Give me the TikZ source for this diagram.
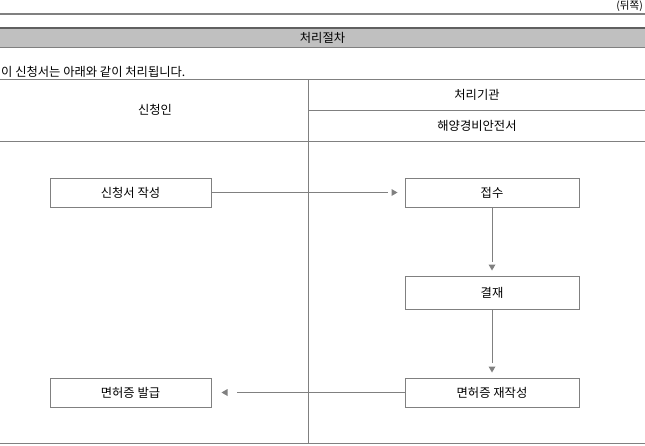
\documentclass[tikz,border=0pt]{standalone}
\usepackage{fontspec}
\setmainfont{Noto Sans CJK KR}
\definecolor{lgray}{HTML}{808080}
\definecolor{dgray}{HTML}{606060}
\definecolor{band}{HTML}{C0C0C0}
\begin{document}
\begin{tikzpicture}[x=1pt,y=-1pt,
  font=\fontsize{12.3}{14}\selectfont,
  ln/.style={draw=lgray, line width=1pt},
  box/.style={draw=lgray, line width=1pt, minimum height=29pt, inner sep=0pt},
  lbl/.style={inner sep=0pt}]
\useasboundingbox (0,0) rectangle (645,445);
% top area
\node[lbl, anchor=east, font=\fontsize{10.5}{12}\selectfont] (back) at (643,6.3) {(뒤쪽)};
\draw[lgray, line width=2pt] (0,13.5) -- (645,13.5);
\fill[band] (0,28) rectangle (645,47.5);
\draw[dgray, line width=2pt] (0,27.5) -- (645,27.5);
\draw[lgray, line width=1pt] (0,47.5) -- (645,47.5);
\node[lbl] (title) at (322.5,38) {처리절차};
\node[lbl, anchor=west] (intro) at (1,72) {이 신청서는 아래와 같이 처리됩니다.};
% table
\draw[ln] (0,79.5) -- (645,79.5);
\draw[ln] (308.5,110.5) -- (645,110.5);
\draw[ln] (0,141.5) -- (645,141.5);
\draw[ln] (308.5,79.5) -- (308.5,443.5);
\draw[ln] (0,443.5) -- (645,443.5);
\node[lbl] (applicant) at (155,110) {신청인};
\node[lbl] (agency) at (477,95) {처리기관};
\node[lbl] (office) at (477,126) {해양경비안전서};
% boxes
\node[box, minimum width=161pt] (write) at (130.5,192.5) {신청서 작성};
\node[box, minimum width=174pt] (receive) at (492,192.5) {접수};
\node[box, minimum width=174pt, minimum height=33pt] (approve) at (492,292.5) {결재};
\node[box, minimum width=174pt] (remake) at (492,392.5) {면허증 재작성};
\node[box, minimum width=161pt] (issue) at (130.5,392.5) {면허증 발급};
% connectors
\draw[ln] (write.east) -- ([xshift=-17pt]receive.west);
\fill[lgray] ([xshift=-7pt]receive.west) -- ++(-6,-3.5) -- ++(0,7) -- cycle;
\draw[ln] (receive.south) -- ([yshift=14pt]approve.north);
\fill[lgray] ([yshift=5pt]approve.north) -- ++(-3.5,-6) -- ++(7,0) -- cycle;
\draw[ln] (approve.south) -- ([yshift=15pt]remake.north);
\fill[lgray] ([yshift=5pt]remake.north) -- ++(-3.5,-6) -- ++(7,0) -- cycle;
\draw[ln] (remake.west) -- ([xshift=25pt]issue.east);
\fill[lgray] ([xshift=10pt]issue.east) -- ++(6,-3.5) -- ++(0,7) -- cycle;
\end{tikzpicture}
\end{document}
